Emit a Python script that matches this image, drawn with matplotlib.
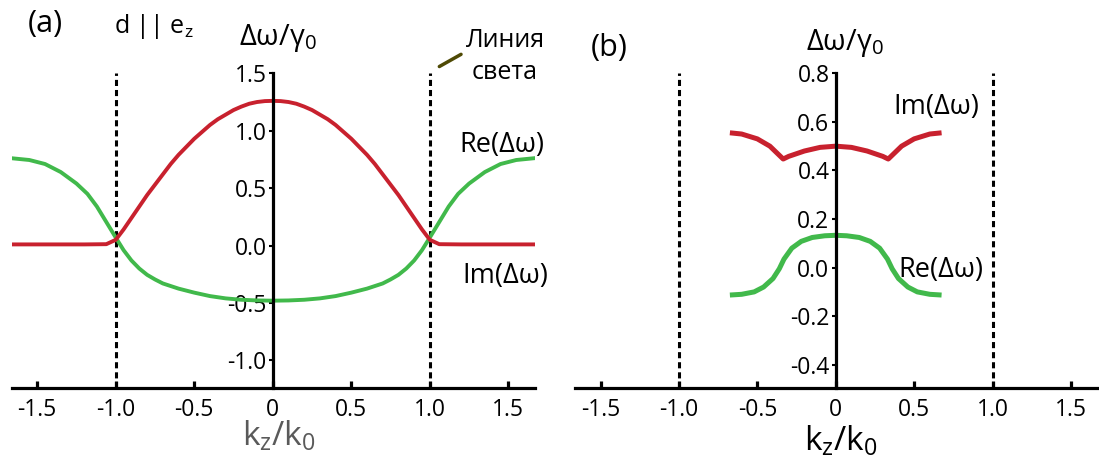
import matplotlib
matplotlib.use("Agg")
import matplotlib.pyplot as plt

# ---- data ----
# panel (a): d || e_z
kz_a_im = [-1.66, -1.40, -1.20, -1.06, -1.00, -0.95, -0.90, -0.85, -0.80, -0.75, -0.70,
           -0.65, -0.60, -0.55, -0.50, -0.45, -0.40, -0.35, -0.30, -0.25, -0.20, -0.15,
           -0.10, -0.05, 0.00, 0.05, 0.10, 0.15, 0.20, 0.25, 0.30, 0.35, 0.40, 0.45,
           0.50, 0.55, 0.60, 0.65, 0.70, 0.75, 0.80, 0.85, 0.90, 0.95, 1.00, 1.06,
           1.20, 1.40, 1.66]
im_a = [0.01, 0.01, 0.01, 0.012, 0.05, 0.14, 0.24, 0.34, 0.44, 0.53, 0.62,
        0.71, 0.79, 0.86, 0.93, 0.99, 1.05, 1.10, 1.14, 1.18, 1.21, 1.235,
        1.25, 1.258, 1.26, 1.258, 1.25, 1.235, 1.21, 1.18, 1.14, 1.10, 1.05, 0.99,
        0.93, 0.86, 0.79, 0.71, 0.62, 0.53, 0.44, 0.34, 0.24, 0.14, 0.05, 0.012,
        0.01, 0.01, 0.01]

kz_a_re = [-1.66, -1.55, -1.45, -1.35, -1.25, -1.18, -1.12, -1.08, -1.04, -1.00, -0.95,
           -0.90, -0.85, -0.80, -0.75, -0.70, -0.60, -0.50, -0.40, -0.30, -0.20, -0.10,
           0.00, 0.10, 0.20, 0.30, 0.40, 0.50, 0.60, 0.70, 0.75, 0.80, 0.85, 0.90,
           0.95, 1.00, 1.04, 1.08, 1.12, 1.18, 1.25, 1.35, 1.45, 1.55, 1.66]
re_a = [0.76, 0.745, 0.71, 0.64, 0.54, 0.45, 0.34, 0.25, 0.16, 0.07, -0.04,
        -0.13, -0.20, -0.255, -0.295, -0.33, -0.375, -0.41, -0.44, -0.46, -0.472, -0.478,
        -0.48, -0.478, -0.472, -0.46, -0.44, -0.41, -0.375, -0.33, -0.295, -0.255, -0.20, -0.13,
        -0.04, 0.07, 0.16, 0.25, 0.34, 0.45, 0.54, 0.64, 0.71, 0.745, 0.76]

# panel (b)
kz_b_im = [-0.675, -0.60, -0.50, -0.42, -0.38, -0.335, -0.30, -0.20, -0.10, 0.00,
           0.10, 0.20, 0.30, 0.335, 0.38, 0.42, 0.50, 0.60, 0.675]
im_b = [0.555, 0.55, 0.53, 0.50, 0.475, 0.447, 0.458, 0.48, 0.495, 0.50,
        0.495, 0.48, 0.458, 0.447, 0.475, 0.50, 0.53, 0.55, 0.555]

kz_b_re = [-0.675, -0.60, -0.52, -0.46, -0.40, -0.36, -0.33, -0.28, -0.22, -0.15, -0.07, 0.00,
           0.07, 0.15, 0.22, 0.28, 0.33, 0.36, 0.40, 0.46, 0.52, 0.60, 0.675]
re_b = [-0.113, -0.11, -0.10, -0.08, -0.045, -0.005, 0.035, 0.08, 0.108, 0.124, 0.131, 0.133,
        0.131, 0.124, 0.108, 0.08, 0.035, -0.005, -0.045, -0.08, -0.10, -0.11, -0.113]

xticks = [-1.5, -1.0, -0.5, 0.0, 0.5, 1.0, 1.5]
xtick_labels = ["-1.5", "-1.0", "-0.5", "0", "0.5", "1.0", "1.5"]
yticks_a = [1.5, 1.0, 0.5, 0.0, -0.5, -1.0]
ytick_labels_a = ["1.5", "1.0", "0.5", "0.0", "-0.5", "-1.0"]
yticks_b = [0.8, 0.6, 0.4, 0.2, 0.0, -0.2, -0.4]
ytick_labels_b = ["0.8", "0.6", "0.4", "0.2", "0.0", "-0.2", "-0.4"]
light_line = [-1.0, 1.0]

RED = "#c8212e"
GREEN = "#41b94b"

plt.rcParams["font.family"] = ["Open Sans", "DejaVu Sans"]
plt.rcParams["mathtext.fontset"] = "custom"
plt.rcParams["mathtext.rm"] = "Open Sans"
plt.rcParams["mathtext.it"] = "Open Sans"

W, H = 1099, 466
fig = plt.figure(figsize=(W / 100, H / 100), dpi=100)


def px(x, y):
    """pixel position (from top-left) -> figure fraction"""
    return x / W, 1 - y / H


def style_axes(ax, xlim, ylim, yticks, ylabels):
    ax.set_xlim(*xlim)
    ax.set_ylim(*ylim)
    for s in ["top", "right"]:
        ax.spines[s].set_visible(False)
    ax.spines["left"].set_position(("data", 0))
    ax.spines["left"].set_linewidth(2.3)
    ax.spines["bottom"].set_linewidth(2.3)
    ax.spines["left"].set_zorder(4)
    ax.set_xticks(xticks, xtick_labels)
    ax.set_yticks(yticks, ylabels)
    ax.tick_params(axis="x", direction="in", length=5, width=2.3, pad=7, labelsize=16.5)
    ax.tick_params(axis="y", direction="out", length=3, width=1.5, pad=1.5, labelsize=16.5)
    ax.patch.set_visible(False)
    for x in light_line:
        ax.axvline(x, color="black", lw=2.2, ls=(0, (2, 1.3)), zorder=1)


# --- (a) ---
ax_a = fig.add_axes([11.6 / W, (H - 388.3) / H, 523 / W, 315 / H])
style_axes(ax_a, (-1.663, 1.667), (-1.243, 1.5), yticks_a, ytick_labels_a)
ax_a.plot(kz_a_re, re_a, color=GREEN, lw=2.8, zorder=3)
ax_a.plot(kz_a_im, im_a, color=RED, lw=2.8, zorder=3)
ax_a.annotate("", xy=(1.045, 1.547), xytext=(1.214, 1.677),
              arrowprops=dict(arrowstyle="-", color="#4f4a05", lw=2.5),
              annotation_clip=False)

# --- (b) ---
ax_b = fig.add_axes([574.5 / W, (H - 388.3) / H, 524.5 / W, 315 / H])
style_axes(ax_b, (-1.666, 1.679), (-0.497, 0.8), yticks_b, ytick_labels_b)
ax_b.plot(kz_b_re, re_b, color=GREEN, lw=3.6, zorder=3, solid_capstyle="butt")
ax_b.plot(kz_b_im, im_b, color=RED, lw=3.6, zorder=3, solid_capstyle="butt")

# --- texts ---
fig.text(*px(45, 24), "(a)", fontsize=22, ha="center", va="center")
fig.text(*px(114, 33), "d || e$_z$", fontsize=18, ha="left", va="baseline")
fig.text(*px(278, 45), "Δω/γ$_0$", fontsize=21, ha="center", va="baseline")
fig.text(*px(505, 47), "Линия", fontsize=18, ha="center", va="baseline")
fig.text(*px(505, 79), "света", fontsize=18, ha="center", va="baseline")
fig.text(*px(459, 152), "Re(Δω)", fontsize=19.5, ha="left", va="baseline")
fig.text(*px(462, 283), "Im(Δω)", fontsize=19.5, ha="left", va="baseline")
fig.text(*px(279, 446), "k$_z$/k$_0$", fontsize=24, ha="center", va="baseline", color="#5a5a5a")

fig.text(*px(609, 48), "(b)", fontsize=22, ha="center", va="center")
fig.text(*px(845, 50), "Δω/γ$_0$", fontsize=21, ha="center", va="baseline")
fig.text(*px(893, 114), "Im(Δω)", fontsize=19.5, ha="left", va="baseline")
fig.text(*px(898, 277), "Re(Δω)", fontsize=19.5, ha="left", va="baseline")
fig.text(*px(841, 451), "k$_z$/k$_0$", fontsize=24, ha="center", va="baseline")

fig.savefig("out.png", dpi=100)
